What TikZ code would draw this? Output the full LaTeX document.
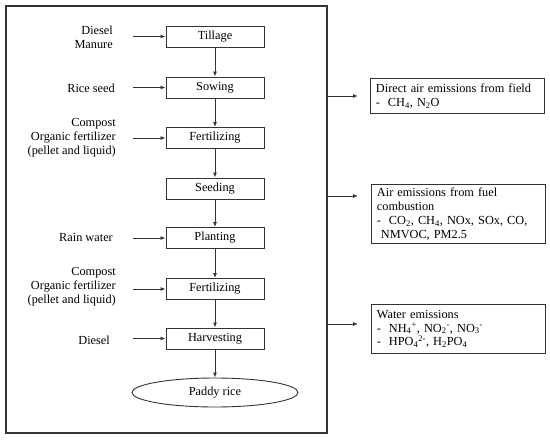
\documentclass[tikz,border=0pt]{standalone}
\usepackage{fontspec}
\setmainfont{Liberation Serif}
\usetikzlibrary{shapes.geometric,arrows.meta}
\begin{document}
\begin{tikzpicture}[x=1pt,y=-1pt,
  font=\fontsize{12.3}{13.9}\selectfont,
  line/.style={draw=black!80,line width=0.9pt},
  arr/.style={line,-{Latex[length=5pt,width=4pt]}},
  stepbox/.style={line,minimum width=98pt,minimum height=21pt,inner sep=0pt},
  inlabel/.style={anchor=east,align=right,inner sep=0pt},
  outbox/.style={line,minimum width=174pt,text width=162pt,inner xsep=6pt,align=left,anchor=north west}]
\useasboundingbox (0,0) rectangle (550,440);
% outer frame
\node[line,line width=1.1pt,minimum width=321pt,minimum height=427pt,inner sep=0pt] (outer) at (166.5,219.5) {};
% process steps
\node[stepbox] (till) at (215,36.5) {Tillage};
\node[stepbox] (sow) at (215,87.5) {Sowing};
\node[stepbox] (fert1) at (215,138) {Fertilizing};
\node[stepbox] (seed) at (215,188.5) {Seeding};
\node[stepbox] (plant) at (215,238) {Planting};
\node[stepbox] (fert2) at (215,289) {Fertilizing};
\node[stepbox] (harv) at (215,338.5) {Harvesting};
\node[line,ellipse,minimum width=166pt,minimum height=29pt,inner sep=0pt] (paddy) at (215,392.5) {Paddy rice};
\draw[arr] (till) -- (sow);
\draw[arr] (sow) -- (fert1);
\draw[arr] (fert1) -- (seed);
\draw[arr] (seed) -- (plant);
\draw[arr] (plant) -- (fert2);
\draw[arr] (fert2) -- (harv);
\draw[arr] (harv) -- (paddy);
% inputs
\node[inlabel] (l1) at (113,37) {Diesel\\Manure};
\node[inlabel] (l2) at (115,88) {Rice seed};
\node[inlabel] (l3) at (116,138) {Compost\\Organic fertilizer\\(pellet and liquid)};
\node[inlabel] (l4) at (113,237) {Rain water};
\node[inlabel] (l5) at (116,287) {Compost\\Organic fertilizer\\(pellet and liquid)};
\node[inlabel] (l6) at (110,340) {Diesel};
\coordinate (s1) at (133,36.5);
\coordinate (s2) at (133,87.5);
\coordinate (s3) at (133,138);
\coordinate (s4) at (133,238);
\coordinate (s5) at (133,289);
\coordinate (s6) at (133,338.5);
\draw[arr] (s1) -- (till.west);
\draw[arr] (s2) -- (sow.west);
\draw[arr] (s3) -- (fert1.west);
\draw[arr] (s4) -- (plant.west);
\draw[arr] (s5) -- (fert2.west);
\draw[arr] (s6) -- (harv.west);
% outputs
\coordinate (e1) at (358,96);
\coordinate (e2) at (358,196);
\coordinate (e3) at (358,324);
\draw[arr] (outer.east |- e1) -- (e1);
\draw[arr] (outer.east |- e2) -- (e2);
\draw[arr] (outer.east |- e3) -- (e3);
\node[outbox,minimum height=35pt] (o1) at (369.5,78) {Direct air emissions from field\\\makebox[12pt][l]{-}CH\textsubscript{4}, N\textsubscript{2}O};
\node[outbox,minimum height=55pt] (o2) at (370.5,184) {Air emissions from fuel\\combustion\\\makebox[12pt][l]{-}CO\textsubscript{2}, CH\textsubscript{4}, NOx, SOx, CO,\\\hspace*{4pt}NMVOC, PM2.5};
\node[outbox,minimum height=49pt] (o3) at (370.5,304) {Water emissions\\\makebox[12pt][l]{-}NH\textsubscript{4}\textsuperscript{+}, NO\textsubscript{2}\textsuperscript{-}, NO\textsubscript{3}\textsuperscript{-}\\\makebox[12pt][l]{-}HPO\textsubscript{4}\textsuperscript{2-}, H\textsubscript{2}PO\textsubscript{4}};
\end{tikzpicture}
\end{document}
